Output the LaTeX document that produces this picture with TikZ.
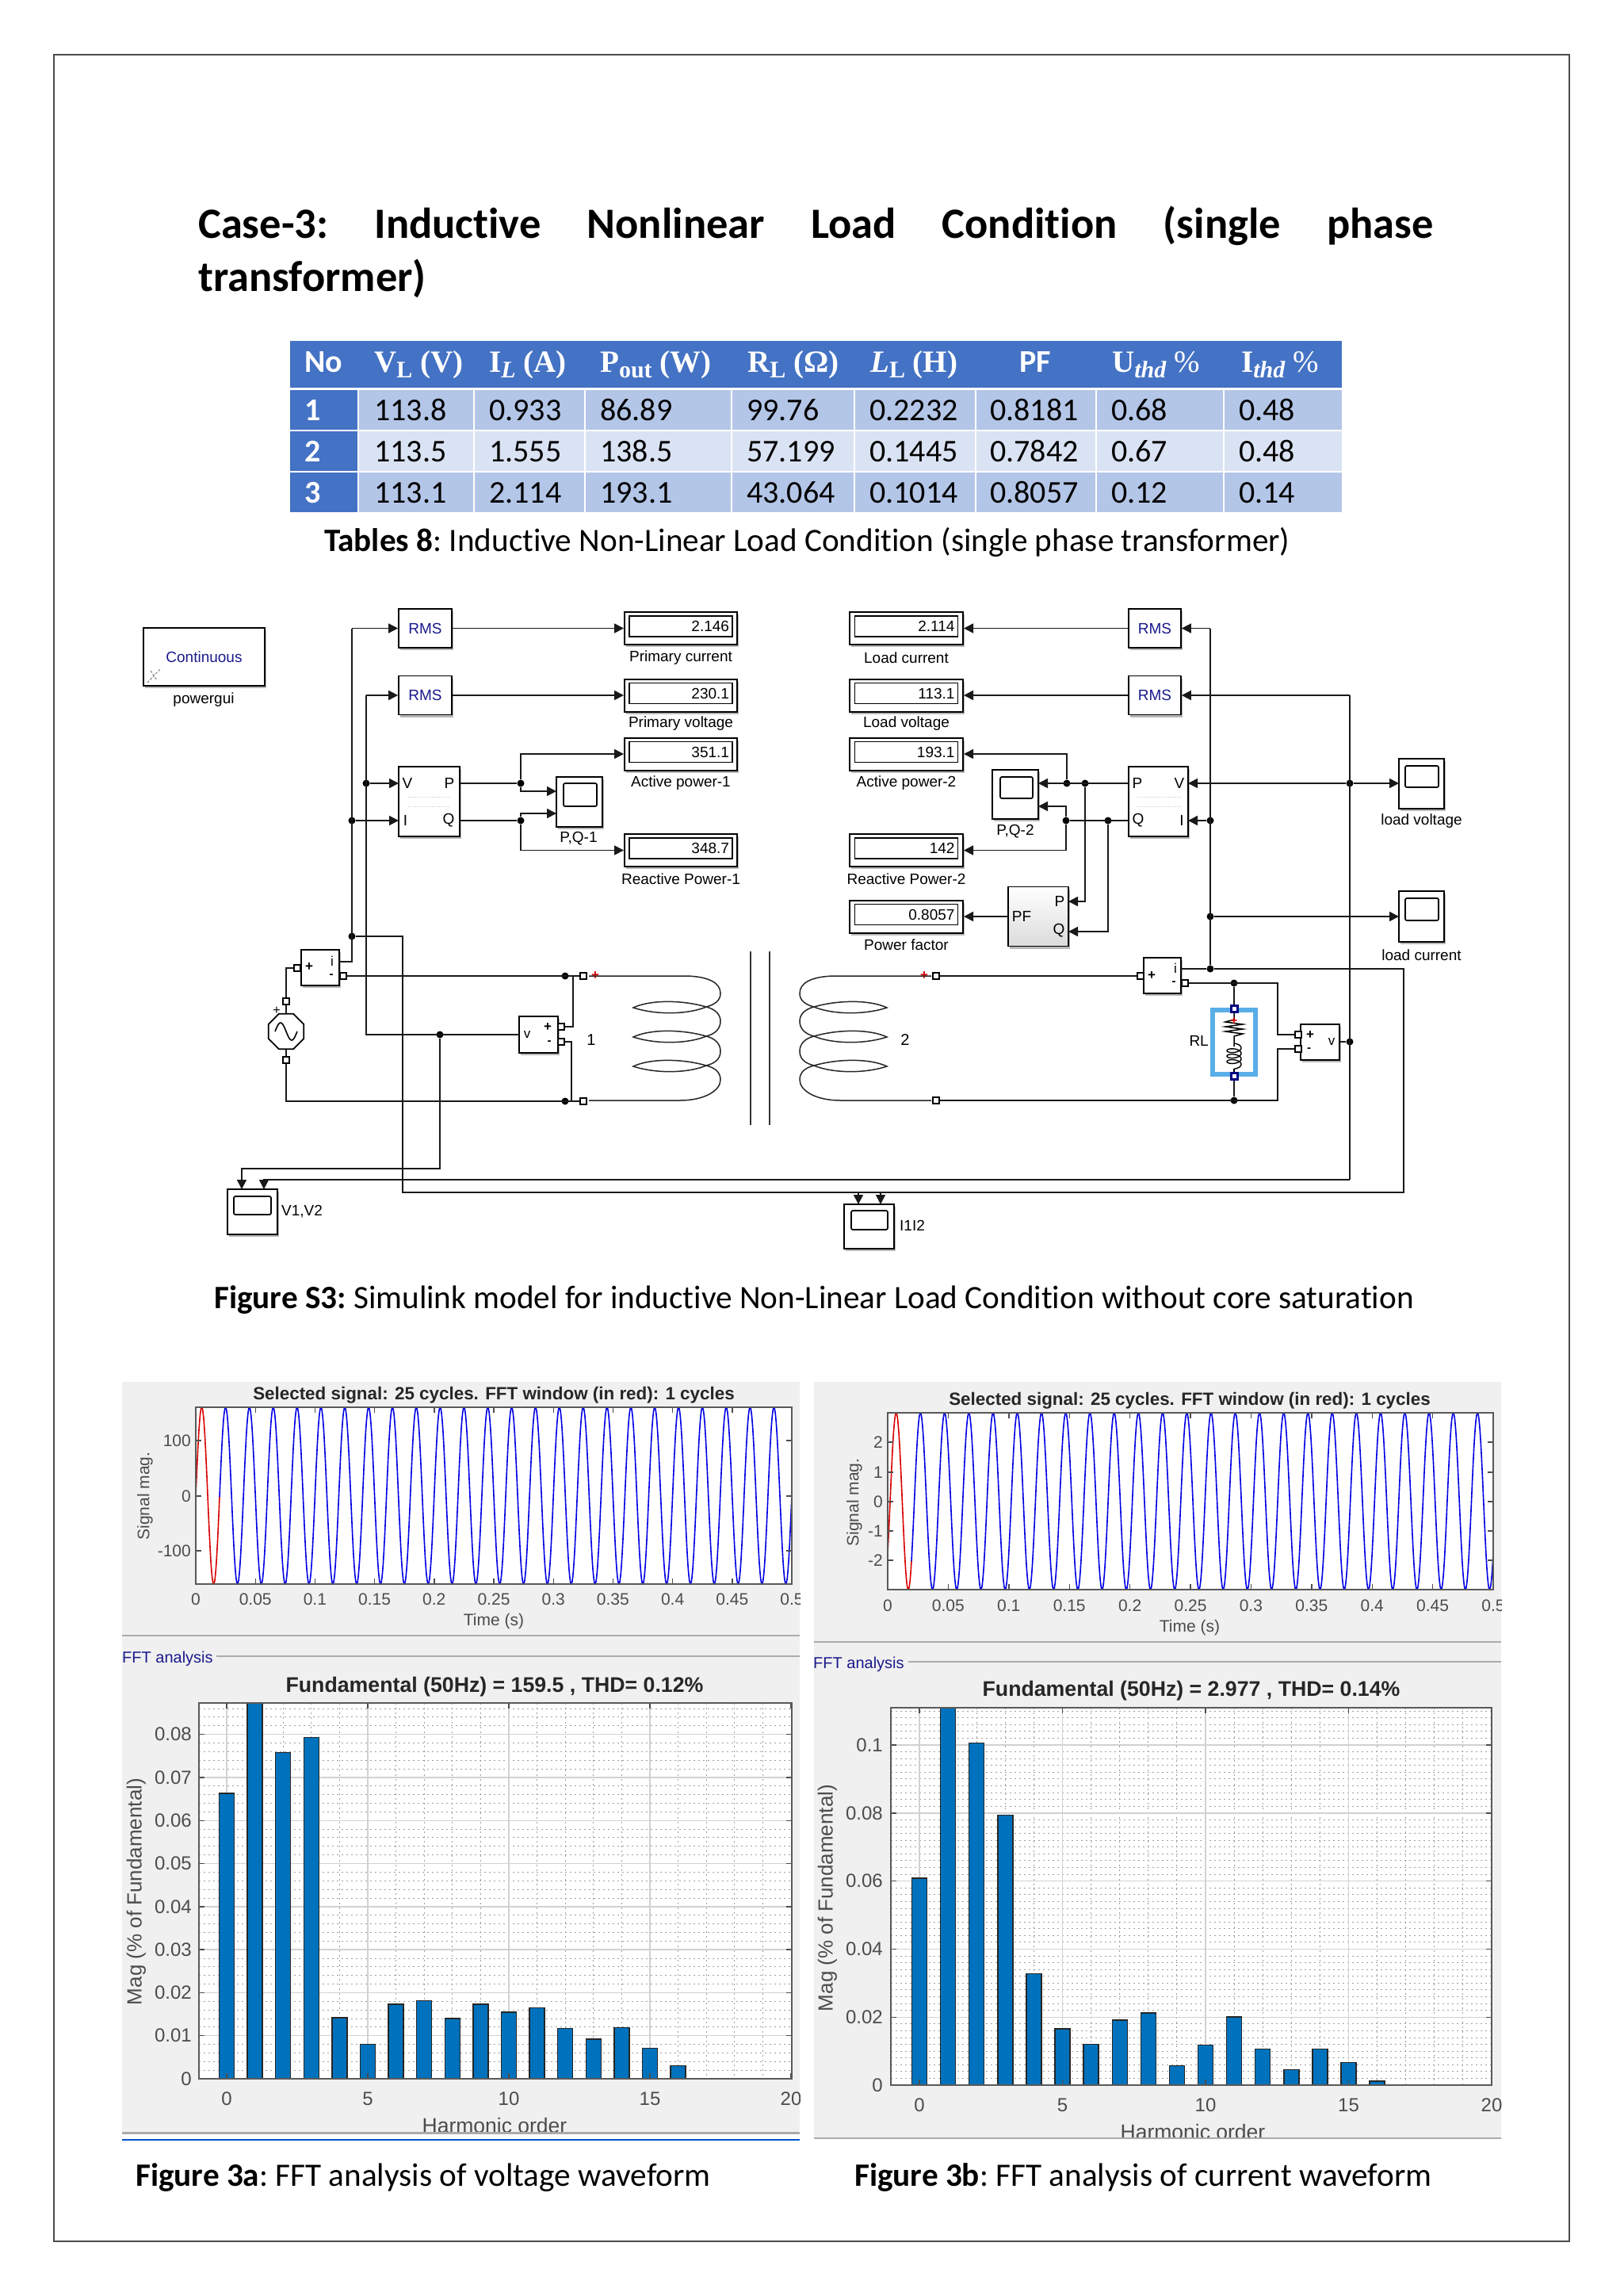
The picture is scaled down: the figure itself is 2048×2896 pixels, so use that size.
\documentclass[tikz,border=0pt]{standalone}
\usepackage{fontspec}
\setmainfont[Ligatures=NoCommon]{Carlito}
\newfontfamily\simfont{Liberation Sans}
\newfontfamily\headfont{Liberation Serif}
\usetikzlibrary{arrows.meta,shapes.geometric,shadows}
\definecolor{headblue}{HTML}{4472C4}
\definecolor{rowdark}{HTML}{B4C6E7}
\definecolor{rowlight}{HTML}{DAE3F3}
\definecolor{navylabel}{HTML}{1A1A8C}
\definecolor{selectblue}{HTML}{5AAEE8}
\definecolor{panelgray}{HTML}{F0F0F0}
\definecolor{rulegray}{HTML}{ABABAB}
\definecolor{barblue}{HTML}{0072BD}
\newcommand{\fsz}[1]{\fontsize{#1}{#1}\selectfont}
\newcommand{\sbs}[1]{\raisebox{-0.2em}{\fsz{30}#1}}
\newcommand{\windings}{%
  \draw[coil] (743,1231) -- (867,1231) .. controls (895,1232) and (909,1240) .. (909,1253) .. controls (909,1262) and (902,1267) .. (891,1270);
  \foreach \yt in {1270,1307,1344} {
    \draw[coil] (891,\yt) .. controls (870,\yt+9) and (830,\yt+11) .. (799,\yt+1) .. controls (820,\yt-9) and (860,\yt-9) .. (891,\yt);
  }
  \draw[coil] (891,1270) .. controls (903,1273) and (909,1280) .. (909,1288) .. controls (909,1297) and (903,1304) .. (891,1307);
  \draw[coil] (891,1307) .. controls (903,1310) and (909,1317) .. (909,1326) .. controls (909,1335) and (903,1341) .. (891,1344);
  \draw[coil] (891,1344) .. controls (903,1347) and (909,1353) .. (909,1362) .. controls (909,1376) and (888,1388) .. (858,1388) -- (743,1388);
}
\tikzset{
  x=1pt,y=-1pt,
  wire/.style={line width=1.7,draw=black!90},
  arr/.style={-{Triangle[length=12pt,width=12pt]}},
  coil/.style={line width=1.5,draw=black!85},
  simblock/.style={draw,fill=white,line width=1.7,inner sep=0,general shadow={shadow xshift=1.5pt,shadow yshift=-3pt,fill=black!28},font=\simfont\fsz{19}},
  screen/.style={draw,line width=1.7,inner sep=0,font=\simfont\fsz{19}},
  simtext/.style={inner sep=0,font=\simfont\fsz{19}},
  jct/.style={circle,fill=black,inner sep=0,minimum size=9},
  portbox/.style={draw,fill=white,line width=2.4,inner sep=0,minimum size=8},
  captext/.style={anchor=base west,inner sep=0,font=\frenchspacing\fsz{41.2}},
  celltext/.style={anchor=base west,inner sep=0,font=\fsz{40}},
  headtext/.style={anchor=base west,inner sep=0,text=white,font=\headfont\bfseries\fsz{39}},
  axtext/.style={inner sep=0,text=black!70,font=\simfont\fsz{21}},
  bigtext/.style={inner sep=0,text=black!70,font=\simfont\fsz{26.5}},
  grid major/.style={line width=1.4,draw=black!18},
  grid minor/.style={line width=0.9,draw=black!38,dash pattern=on 1.5pt off 4.5pt},
  axframe/.style={line width=2.2,draw=black!65},
  bar/.style={fill=barblue,draw=black!85,line width=1.4},
}
\begin{document}
\begin{tikzpicture}
\useasboundingbox (0,0) rectangle (2048,2896);
\fill[white] (0,0) rectangle (2048,2896);
\draw[line width=1.6,black!70] (68,69) rectangle (1980,2827);

\node[anchor=base west,inner sep=0,font=\frenchspacing\bfseries\fsz{54.5}] (titleA) at (250,300) {\makebox[1558pt][s]{Case-3: Inductive Nonlinear Load Condition (single phase}};
\node[anchor=base west,inner sep=0,font=\bfseries\fsz{54.5}] (titleB) at (250,367) {transformer)};

\fill[headblue] (366,430) rectangle (1693,489);
\foreach \ya/\yb/\rowc in {492/542/rowdark,544/594/rowlight,596/646/rowdark} {
  \fill[\rowc] (452,\ya) rectangle (1693,\yb);
  \fill[headblue] (366,\ya) rectangle (452,\yb);
}
\foreach \xc in {452,598,738,923,1078,1231,1383,1544} {
  \draw[white,line width=2] (\xc,490) -- (\xc,646);
}
\node[anchor=base west,inner sep=0,text=white,font=\bfseries\fsz{40}] (hNo) at (384,469) {No};
\node[headtext] (hV) at (472,469) {V\sbs{L} (V)};
\node[headtext] (hI) at (617,469) {I\sbs{\itshape L} (A)};
\node[headtext] (hP) at (757,469) {P\sbs{out} (W)};
\node[headtext] (hR) at (943,469) {R\sbs{L} (Ω)};
\node[headtext] (hL) at (1098,469) {\itshape L\sbs{\upshape L} \upshape (H)};
\node[anchor=base,inner sep=0,text=white,font=\bfseries\fsz{40}] (hPF) at (1306,469) {PF};
\node[headtext] (hU) at (1403,469) {U\sbs{\itshape thd} \mdseries\%};
\node[headtext] (hT) at (1566,469) {I\sbs{\itshape thd} \mdseries\%};
\foreach \by/\nr/\ca/\cb/\cc/\cd/\ce/\cf/\cg/\ch in {530/1/113.8/0.933/86.89/99.76/0.2232/0.8181/0.68/0.48,582/2/113.5/1.555/138.5/57.199/0.1445/0.7842/0.67/0.48,634/3/113.1/2.114/193.1/43.064/0.1014/0.8057/0.12/0.14} {
  \node[celltext,text=white,font=\bfseries\fsz{40}] (no\nr) at (384,\by) {\nr};
  \node[celltext] (va\nr) at (472,\by) {\ca};
  \node[celltext] (vb\nr) at (617,\by) {\cb};
  \node[celltext] (vc\nr) at (757,\by) {\cc};
  \node[celltext] (vd\nr) at (942,\by) {\cd};
  \node[celltext] (ve\nr) at (1097,\by) {\ce};
  \node[celltext] (vf\nr) at (1249,\by) {\cf};
  \node[celltext] (vg\nr) at (1402,\by) {\cg};
  \node[celltext] (vh\nr) at (1563,\by) {\ch};
}
\node[captext] (capTab) at (409,695) {\textbf{Tables 8}: Inductive Non-Linear Load Condition (single phase transformer)};

\node[simblock,minimum width=153,minimum height=73,text=navylabel] (powergui) at (257.5,828.5) {Continuous};
\node[simtext] (powerguilab) at (257,883) {powergui};
\draw[black!45,line width=1.2,dash pattern=on 3pt off 2pt] (186,861) -- (203,843) (190,846) -- (198,858);

\node[simblock,minimum width=67,minimum height=49,text=navylabel] (rmsA) at (536.5,792.5) {RMS};
\node[simblock,minimum width=67,minimum height=49,text=navylabel] (rmsB) at (536.5,877) {RMS};
\node[simblock,minimum width=66,minimum height=49,text=navylabel] (rmsC) at (1457,792.5) {RMS};
\node[simblock,minimum width=66,minimum height=49,text=navylabel] (rmsD) at (1457,877) {RMS};
\foreach \nm/\xd/\yd/\dw/\val/\ylab/\lab in {A/859/792.5/142/2.146/830/Primary current,B/859/877/142/230.1/913/Primary voltage,C/859/951/142/351.1/988/Active power-1,D/859/1072.5/142/348.7/1109/Reactive Power-1,E/1143.5/792.5/143/2.114/830/Load current,F/1143.5/877/143/113.1/913/Load voltage,G/1143.5/951/143/193.1/988/Active power-2,H/1143.5/1072.5/143/142/1109/Reactive Power-2,J/1143.5/1156/143/0.8057/1192/Power factor} {
  \node[simblock,line width=2,minimum width=\dw,minimum height=41] (disp\nm) at (\xd,\yd) {};
  \node[screen,minimum width=130,minimum height=26,text width=122pt,align=right] (scr\nm) at (\xd,\yd-2.5) {\val};
  \node[simtext] (lab\nm) at (\xd,\ylab) {\lab};
}

\node[simblock,minimum width=77,minimum height=88] (pqA) at (541.5,1011) {};
\node[simtext] (pqAv) at (514,988) {V};
\node[simtext] (pqAp) at (567,988) {P};
\node[simtext] (pqAi) at (511.5,1035) {I};
\node[simtext] (pqAq) at (566,1035) {Q};
\draw[black!25,line width=1,dotted] (515,1005) -- (568,1005) (515,1017) -- (568,1017);
\node[simblock,minimum width=75,minimum height=88] (pqB) at (1461.5,1011) {};
\node[simtext] (pqBP) at (1435,988) {P};
\node[simtext] (pqBV) at (1488,988) {V};
\node[simtext] (pqBQ) at (1436,1035) {Q};
\node[simtext] (pqBI) at (1491,1035) {I};
\draw[black!25,line width=1,dotted] (1435,1005) -- (1490,1005) (1435,1017) -- (1490,1017);

\node[simblock,minimum width=58,minimum height=63] (scA) at (731,1011.5) {};
\node[screen,rounded corners=2,minimum width=42,minimum height=29] (scAs) at (732,1002.5) {};
\node[simtext] (scAl) at (730,1058) {P,Q-1};
\node[simblock,minimum width=58,minimum height=62] (scB) at (1281,1002) {};
\node[screen,rounded corners=2,minimum width=41,minimum height=27] (scBs) at (1282.5,993.5) {};
\node[simtext] (scBl) at (1281,1049) {P,Q-2};
\node[simblock,minimum width=57,minimum height=63] (scLV) at (1793.5,988.5) {};
\node[screen,rounded corners=2,minimum width=42,minimum height=27] (scLVs) at (1794,979.5) {};
\node[simtext] (scLVl) at (1793.5,1036) {load voltage};
\node[simblock,minimum width=57,minimum height=64] (scLC) at (1793.5,1156) {};
\node[screen,rounded corners=2,minimum width=42,minimum height=28] (scLCs) at (1794,1147) {};
\node[simtext] (scLCl) at (1793.5,1205) {load current};
\node[simblock,minimum width=63,minimum height=57] (scV) at (318.5,1528.5) {};
\node[screen,rounded corners=2,minimum width=47,minimum height=23] (scVs) at (318.5,1520.5) {};
\node[simtext,anchor=west] (scVl) at (355,1528) {V1,V2};
\node[simblock,minimum width=63,minimum height=56] (scI) at (1096.5,1547) {};
\node[screen,rounded corners=2,minimum width=46,minimum height=24] (scIs) at (1097,1539) {};
\node[simtext,anchor=west] (scIl) at (1135,1546) {I1I2};

\node[simblock,top color=white,bottom color=black!14,minimum width=76,minimum height=75] (pfB) at (1310,1156) {};
\node[simtext] (pfBP) at (1337,1137) {P};
\node[simtext] (pfBQ) at (1336,1174) {Q};
\node[simtext] (pfBF) at (1289,1156) {PF};

\node[simblock,minimum width=48,minimum height=45] (csA) at (404,1220.5) {};
\node[simtext,font=\simfont\fsz{17}] (csAi) at (419,1212) {i};
\node[simtext,font=\simfont\bfseries\fsz{17}] (csAp) at (390,1220) {+};
\node[simtext,font=\simfont\bfseries\fsz{15}] (csAm) at (418,1231) {-};
\node[simblock,minimum width=49,minimum height=46] (vsA) at (679.5,1305) {};
\node[simtext,font=\simfont\fsz{17}] (vsAv) at (665,1305) {v};
\node[simtext,font=\simfont\bfseries\fsz{17}] (vsAp) at (691,1295) {+};
\node[simtext,font=\simfont\bfseries\fsz{15}] (vsAm) at (693,1315) {-};
\node[simblock,minimum width=47,minimum height=45] (csB) at (1466.5,1230.5) {};
\node[simtext,font=\simfont\fsz{17}] (csBi) at (1483,1221) {i};
\node[simtext,font=\simfont\bfseries\fsz{17}] (csBp) at (1453,1230) {+};
\node[simtext,font=\simfont\bfseries\fsz{15}] (csBm) at (1481,1240) {-};
\node[simblock,minimum width=49,minimum height=45] (vsB) at (1665.5,1314.5) {};
\node[simtext,font=\simfont\fsz{17}] (vsBv) at (1680,1314) {v};
\node[simtext,font=\simfont\bfseries\fsz{17}] (vsBp) at (1653,1305) {+};
\node[simtext,font=\simfont\bfseries\fsz{15}] (vsBm) at (1651.5,1324) {-};

\node[draw,regular polygon,regular polygon sides=8,line width=1.7,inner sep=0,minimum size=48] (src) at (361,1301) {};
\draw[line width=1.6,domain=-14:14,samples=30,smooth] plot ({361+\x},{1301+11*sin(12.86*\x)});
\node[simtext,font=\simfont\fsz{16}] (srcp) at (349,1275) {+};

\node[draw=selectblue,fill=white,line width=6,inner sep=0,minimum width=54,minimum height=81] (rl) at (1557,1314.5) {};
\node[simtext,anchor=east] (rllab) at (1525,1313) {RL};

\foreach \nm/\xp/\yp in {pSrcT/361/1263,pSrcB/361/1337,pCsAin/375/1221,pCsAout/433/1231,pPt/736/1231,pPb/736/1389,pVsAp/708/1295,pVsAm/708/1314,pSt/1181/1231,pSb/1181/1388,pCsBin/1439/1231,pCsBout/1495/1240,pVsBp/1638/1305,pVsBm/1638/1323} {
  \node[portbox] (\nm) at (\xp,\yp) {};
}
\foreach \nm/\yp in {pRLt/1272,pRLb/1357} {
  \node[portbox,draw=blue!50!black,line width=3] (\nm) at (1557,\yp) {};
}
\foreach \nm/\xp/\yp in {jA/444/1035,jB/444/1181,jC/462/988,jV/555/1305,jD/657/988,jE/657/1035,jF/713/1231,jG/713/1389,jH/1346/988,jK/1369/988,jL/1345/1035,jM/1398/1035,jN/1527/1035,jO/1527/1156,jQ/1527/1222,jR/1703/988,jS/1703/1314,jT/1557/1240,jU/1557/1388} {
  \node[jct] (\nm) at (\xp,\yp) {};
}
\node[simtext,text=red!85!black,font=\simfont\bfseries\fsz{17}] (plusA) at (751,1231) {+};
\node[simtext,text=red!85!black,font=\simfont\bfseries\fsz{17}] (plusB) at (1166,1231) {+};
\node[simtext,font=\simfont\fsz{20}] (winda) at (746,1312) {1};
\node[simtext,font=\simfont\fsz{20}] (windb) at (1142,1312) {2};

\windings
\begin{scope}[xshift=1918pt,xscale=-1]
\windings
\end{scope}
\draw[line width=1.6,black!80] (947,1200) -- (947,1419) (971,1200) -- (971,1419);

\foreach \nm/\xp/\yp in {busAtop/444/792.5,iOutA/428/1213,busBtop/462/877,cornV/462/1305,vOutA/655/1305,inAv/503/988,inAi/503/1035,cornI/508/1504,cornJ/1771/1504,iOutB/1490/1222,tapIa/1083/1504,tapIb/1111/1504,inIa/1083/1519,inIb/1111/1519,cornU/555/1474,inVa/305/1500,inVb/333/1500,busCtop/1703/877,busCbot/1703/1488,busDtop/1527/792.5,outAp/580/988,outAq/580/1035,inSa/702/998,inSb/702/1026,inLV/1765/988,inLC/1765/1156,inBv/1499/988,inBi/1499/1035,outBp/1424/988,outBq/1424/1035,inTp/1310/988,inTq/1310/1017,inPFp/1348/1137,inPFq/1348/1175,tapP/723/1231,tapM/721/1389,cornR/1612/1240,cornS/1612/1388,vOutB/1690/1314} {
  \coordinate (\nm) at (\xp,\yp);
}

\draw[wire] (iOutA) -| (busAtop);
\draw[wire,arr] (busAtop) -- (rmsA.west);
\draw[wire,arr] (rmsA) -- (dispA);
\draw[wire,arr] (rmsB) -- (dispB);
\draw[wire] (vOutA) -- (cornV) -- (busBtop);
\draw[wire,arr] (busBtop) -- (rmsB.west);
\draw[wire,arr] (jC) -- (inAv);
\draw[wire,arr] (jA) -- (inAi);
\draw[wire] (outAp) -- (jD);
\draw[wire] (outAq) -- (jE);
\draw[wire,arr] (jD) |- (dispC.west);
\draw[wire,arr] (jD) |- (inSa);
\draw[wire,arr] (jE) |- (inSb);
\draw[wire,arr] (jE) |- (dispD.west);
\draw[wire] (jB) -| (cornI) -- (cornJ) |- (jQ) -- (iOutB);
\draw[wire,arr] (tapIa) -- (inIa);
\draw[wire,arr] (tapIb) -- (inIb);
\draw[wire,arr] (jV) -- (cornU) -| (inVa);
\draw[wire,arr] (busCbot) -| (inVb);
\draw[wire] (busCtop) -- (busCbot);
\draw[wire,arr] (busCtop) -- (rmsD.east);
\draw[wire] (jQ) -- (busDtop);
\draw[wire,arr] (busDtop) -- (rmsC.east);
\draw[wire,arr] (rmsC) -- (dispE);
\draw[wire,arr] (rmsD) -- (dispF);
\draw[wire,arr] (jR) -- (inBv);
\draw[wire,arr] (jR) -- (inLV);
\draw[wire,arr] (jN) -- (inBi);
\draw[wire,arr] (jO) -- (inLC);
\draw[wire,arr] (outBp) -- (inTp);
\draw[wire] (outBq) -- (jL);
\draw[wire,arr] (jH) |- (dispG.east);
\draw[wire,arr] (jK) |- (inPFp);
\draw[wire,arr] (jM) |- (inPFq);
\draw[wire,arr] (jL) |- (inTq);
\draw[wire,arr] (jL) |- (dispH.east);
\draw[wire,arr] (pfB) -- (dispJ);

\draw[wire] (src) -- (pSrcT) |- (pCsAin);
\draw[wire] (src) -- (pSrcB) |- (pPb);
\draw[wire] (pCsAout) -- (pPt);
\draw[wire] (pVsAp) -| (tapP);
\draw[wire] (pVsAm) -| (tapM);
\draw[wire] (pSt) -- (pCsBin);
\draw[wire] (pCsBout) -- (cornR) |- (pVsBp);
\draw[wire] (pSb) -- (cornS) |- (pVsBm);
\draw[wire] (vOutB) -- (jS);
\draw[wire] (jT) -- (pRLt);
\draw[wire] (pRLb) -- (jU);
\draw[line width=1.5] (pRLt) -- (1557,1286) -- (1546,1289) -- (1568,1292) -- (1546,1295) -- (1568,1298) -- (1546,1301) -- (1568,1304) -- (1557,1307) -- (1557,1320);
\draw[line width=1.4,domain=0:1260,samples=90,smooth] plot ({1557+9*sin(\x)},{1320+\x/52-4*cos(\x)});
\draw[line width=1.5] (1557,1348) -- (pRLb);
\node[simtext,text=red!85!black,font=\simfont\bfseries\fsz{15}] (plusC) at (1557,1288) {+};

\node[captext] (capS) at (270,1650) {\textbf{Figure S3:} Simulink model for inductive Non-Linear Load Condition without core saturation};

\begin{scope}
\clip (154,1743) rectangle (1009,2690);
\fill[panelgray] (154,1743) rectangle (1009,2690);
\draw[rulegray,line width=2.5] (154,2063) -- (1009,2063);
\node[axtext,font=\simfont\bfseries\fsz{22.4},text=black!85] (titleUa) at (623,1760) {Selected signal: 25 cycles. FFT window (in red): 1 cycles};
\fill[white] (247,1775) rectangle (999,1998);
\begin{scope}
\clip (247,1775) rectangle (999,1998);
\draw[blue!90!black,line width=1.6,domain=30:752,samples=900] plot ({247+\x},{1886.5-111.5*sin(11.968*\x)});
\draw[red!85!black,line width=1.6,domain=0:30,samples=50] plot ({247+\x},{1886.5-111.5*sin(11.968*\x)});
\end{scope}
\foreach \lab [count=\k from 0] in {0,0.05,0.1,0.15,0.2,0.25,0.3,0.35,0.4,0.45,0.5} {
  \draw[black!70,line width=1.4] ({247+75.2*\k},1775) -- ++(0,7) ({247+75.2*\k},1998) -- ++(0,-7);
  \node[axtext] (xUa\k) at ({247+75.2*\k},2017) {\lab};
}
\foreach \yt/\lab [count=\k] in {1817/100,1887/0,1956/-100} {
  \draw[black!70,line width=1.4] (247,\yt) -- ++(7,0) (999,\yt) -- ++(-7,0);
  \node[axtext,anchor=east] (yUa\k) at (241,\yt) {\lab};
}
\draw[axframe] (247,1775) rectangle (999,1998);
\node[axtext] (timeUa) at (623,2045) {Time (s)};
\node[axtext,rotate=90] (magUa) at (183,1887) {Signal mag.};
\node[axtext,anchor=west,text=navylabel,font=\simfont\fsz{20}] (fftA) at (154,2092) {FFT analysis};
\draw[rulegray,line width=1.6] (273,2089) -- (1009,2089);
\node[axtext,font=\simfont\bfseries\fsz{26.7},text=black!85] (titleLa) at (624,2128) {Fundamental (50Hz) = 159.5 , THD= 0.12\%};
\fill[white] (251,2148) rectangle (999,2622);
\foreach \k in {1,...,43} {
  \draw[grid minor] (251,{2622-10.86*\k}) -- (999,{2622-10.86*\k});
}
\foreach \k in {0,...,19} {
  \draw[grid minor] ({286+35.6*\k},2148) -- ({286+35.6*\k},2622);
}
\foreach \k in {1,...,8} {
  \draw[grid major] (251,{2622-54.3*\k}) -- (999,{2622-54.3*\k});
}
\foreach \k in {0,5,10,15} {
  \draw[grid major] ({286+35.6*\k},2148) -- ({286+35.6*\k},2622);
}
\foreach \h/\v in {0/6.63,1/8.73,2/7.58,3/7.93,4/1.42,5/0.80,6/1.73,7/1.82,8/1.40,9/1.73,10/1.55,11/1.65,12/1.17,13/0.92,14/1.19,15/0.71,16/0.31} {
  \draw[bar] ({286+35.6*\h-9.5},2622) rectangle ({286+35.6*\h+9.5},{2622-54.3*\v});
}
\foreach \lab [count=\k from 0] in {0,0.01,0.02,0.03,0.04,0.05,0.06,0.07,0.08} {
  \draw[black!70,line width=1.4] (251,{2622-54.3*\k}) -- ++(7,0) (999,{2622-54.3*\k}) -- ++(-7,0);
  \node[axtext,font=\simfont\fsz{24},anchor=east] (yLa\k) at (242,{2622-54.3*\k}) {\lab};
}
\foreach \k in {0,5,10,15,20} {
  \draw[black!70,line width=1.4] ({286+35.6*\k},2148) -- ++(0,7) ({286+35.6*\k},2622) -- ++(0,-7);
  \node[axtext,font=\simfont\fsz{24}] (xLa\k) at ({286+35.6*\k},2647) {\k};
}
\draw[axframe] (251,2148) rectangle (999,2622);
\node[bigtext] (harmA) at (624,2681) {Harmonic order};
\node[bigtext,rotate=90,font=\simfont\fsz{26}] (magLa) at (172,2386) {Mag (\% of Fundamental)};
\end{scope}
\draw[rulegray,line width=3] (154,2690) -- (1009,2690);
\draw[blue!60!cyan!80!black,line width=2.5] (154,2699) -- (1009,2699);

\begin{scope}
\clip (1027,1743) rectangle (1894,2697);
\fill[panelgray] (1027,1743) rectangle (1894,2697);
\draw[rulegray,line width=2.5] (1027,2071) -- (1894,2071);
\node[axtext,font=\simfont\bfseries\fsz{22.4},text=black!85] (titleUb) at (1501,1767) {Selected signal: 25 cycles. FFT window (in red): 1 cycles};
\fill[white] (1120,1782) rectangle (1884,2005);
\begin{scope}
\clip (1120,1782) rectangle (1884,2005);
\draw[blue!90!black,line width=1.6,domain=30:764,samples=900] plot ({1120+\x},{1893.5-111.5*cos(11.78*(\x-10.7))});
\draw[red!85!black,line width=1.6,domain=0:30,samples=50] plot ({1120+\x},{1893.5-111.5*cos(11.78*(\x-10.7))});
\end{scope}
\foreach \lab [count=\k from 0] in {0,0.05,0.1,0.15,0.2,0.25,0.3,0.35,0.4,0.45,0.5} {
  \draw[black!70,line width=1.4] ({1120+76.4*\k},1782) -- ++(0,7) ({1120+76.4*\k},2005) -- ++(0,-7);
  \node[axtext] (xUb\k) at ({1120+76.4*\k},2025) {\lab};
}
\foreach \yt/\lab [count=\k] in {1819/2,1857/1,1894/0,1931/-1,1968/-2} {
  \draw[black!70,line width=1.4] (1120,\yt) -- ++(7,0) (1884,\yt) -- ++(-7,0);
  \node[axtext,anchor=east] (yUb\k) at (1114,\yt) {\lab};
}
\draw[axframe] (1120,1782) rectangle (1884,2005);
\node[axtext] (timeUb) at (1501,2053) {Time (s)};
\node[axtext,rotate=90] (magUb) at (1078,1895) {Signal mag.};
\node[axtext,anchor=west,text=navylabel,font=\simfont\fsz{20}] (fftB) at (1026,2099) {FFT analysis};
\draw[rulegray,line width=1.6] (1146,2096) -- (1894,2096);
\node[axtext,font=\simfont\bfseries\fsz{26.7},text=black!85] (titleLb) at (1503,2133) {Fundamental (50Hz) = 2.977 , THD= 0.14\%};
\fill[white] (1124,2154) rectangle (1882,2630);
\foreach \k in {1,...,55} {
  \draw[grid minor] (1124,{2630-8.58*\k}) -- (1882,{2630-8.58*\k});
}
\foreach \k in {0,...,19} {
  \draw[grid minor] ({1160+36.1*\k},2154) -- ({1160+36.1*\k},2630);
}
\foreach \k in {2,4,...,10} {
  \draw[grid major] (1124,{2630-42.9*\k}) -- (1882,{2630-42.9*\k});
}
\foreach \k in {0,5,10,15} {
  \draw[grid major] ({1160+36.1*\k},2154) -- ({1160+36.1*\k},2630);
}
\foreach \h/\v in {0/6.08,1/11.09,2/10.06,3/7.94,4/3.27,5/1.66,6/1.20,7/1.91,8/2.12,9/0.57,10/1.18,11/2.01,12/1.06,13/0.46,14/1.06,15/0.67,16/0.12} {
  \draw[bar] ({1160+36.1*\h-9.5},2630) rectangle ({1160+36.1*\h+9.5},{2630-42.9*\v});
}
\foreach \lab [count=\k from 0] in {0,0.02,0.04,0.06,0.08,0.1} {
  \draw[black!70,line width=1.4] (1124,{2630-85.8*\k}) -- ++(7,0) (1882,{2630-85.8*\k}) -- ++(-7,0);
  \node[axtext,font=\simfont\fsz{24},anchor=east] (yLb\k) at (1114,{2630-85.8*\k}) {\lab};
}
\foreach \k in {0,5,10,15,20} {
  \draw[black!70,line width=1.4] ({1160+36.1*\k},2154) -- ++(0,7) ({1160+36.1*\k},2630) -- ++(0,-7);
  \node[axtext,font=\simfont\fsz{24}] (xLb\k) at ({1160+36.1*\k},2655) {\k};
}
\draw[axframe] (1124,2154) rectangle (1882,2630);
\node[bigtext] (harmB) at (1505,2689) {Harmonic order};
\node[bigtext,rotate=90,font=\simfont\fsz{26}] (magLb) at (1044,2394) {Mag (\% of Fundamental)};
\end{scope}
\draw[rulegray,line width=2.5] (1027,2697) -- (1894,2697);

\node[captext] (capA) at (171,2757) {\textbf{Figure 3a}: FFT analysis of voltage waveform};
\node[captext] (capB) at (1078,2757) {\textbf{Figure 3b}: FFT analysis of current waveform};
\end{tikzpicture}
\end{document}
